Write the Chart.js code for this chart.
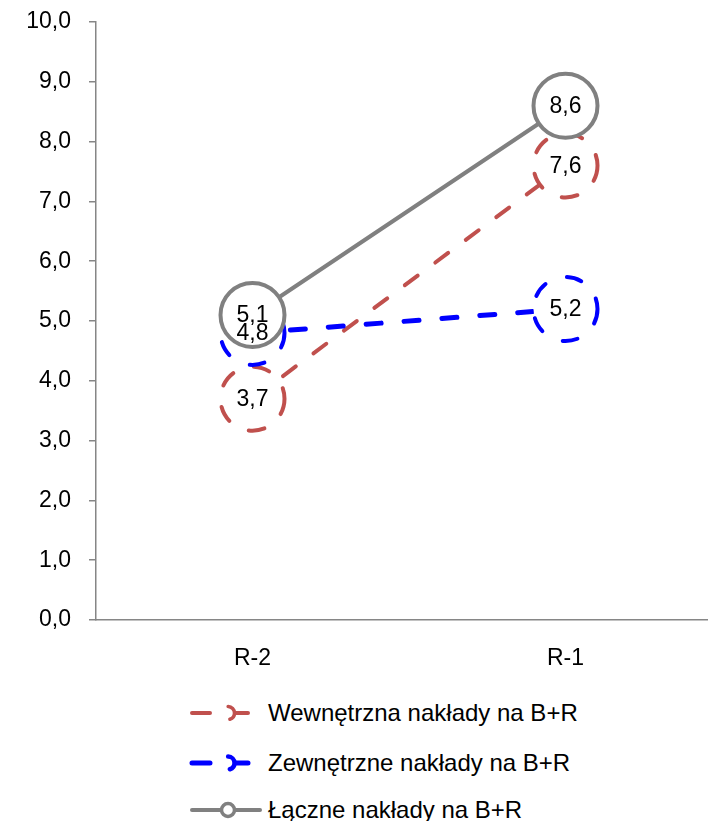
<!DOCTYPE html>
<html lang="pl">
<head>
<meta charset="utf-8">
<title>Nakłady na B+R</title>
<script src="https://cdn.jsdelivr.net/npm/chart.js@4/dist/chart.umd.min.js"></script>
<style>
    html, body {
        margin: 0;
        padding: 0;
        background: #ffffff;
        width: 708px;
        height: 821px;
        overflow: hidden;
        font-family: "Liberation Sans", Arial, sans-serif;
    }
    /* big point markers push Chart.js' minimum padding to 34px, so the canvas is shifted up */
    #chartBox {
        position: absolute;
        left: 0;
        top: -14px;
        width: 758px;
        height: 704px;
    }
    .legend-row {
        position: absolute;
        left: 186px;
        height: 30px;
        line-height: 30px;
        font-size: 24px;
        color: #000000;
        white-space: nowrap;
    }
    .legend-row svg {
        position: absolute;
        left: 0;
        top: 0;
    }
    .legend-row span {
        position: absolute;
        left: 82px;
        top: 0;
    }
</style>
</head>
<body>
<div id="chartBox">
    <canvas id="rdChart" width="758" height="704"></canvas>
</div>
<div id="legend"></div>

<script>
// Nakłady na B+R, R-2 vs R-1.
const categories = ['R-2', 'R-1'];
const internalValues = [3.7, 7.6];
const externalValues = [4.8, 5.2];
const totalValues = [5.1, 8.6];
const seriesNames = ['Wewnętrzna nakłady na B+R', 'Zewnętrzne nakłady na B+R', 'Łączne nakłady na B+R'];
const yMin = 0;
const yMax = 10;
const yStep = 1;

const FONT = '"Liberation Sans", Arial, sans-serif';
const RED = '#c0504d';
const BLUE = '#0000ff';
const GREY = '#808080';
const AXIS = '#868686';

function formatPl(value) {
    return Number(value).toFixed(1).replace('.', ',');
}

// markers take the dataset's dash pattern too
const dashedMarkers = {
    id: 'dashedMarkers',
    beforeDatasetDraw(chart, args) {
        const ds = chart.data.datasets[args.index];
        const ctx = chart.ctx;
        ctx.save();
        ctx.setLineDash(ds.borderDash || []);
        ctx.lineCap = 'round';
    },
    afterDatasetDraw(chart) {
        chart.ctx.restore();
    },
};

const valueLabels = {
    id: 'valueLabels',
    afterDatasetsDraw(chart) {
        const ctx = chart.ctx;
        ctx.save();
        ctx.font = `23px ${FONT}`;
        ctx.fillStyle = '#000000';
        ctx.textAlign = 'center';
        ctx.textBaseline = 'middle';
        chart.getSortedVisibleDatasetMetas().slice().reverse().forEach((meta) => {
            const values = chart.data.datasets[meta.index].data;
            meta.data.forEach((point, i) => {
                ctx.fillText(formatPl(values[i]), point.x, point.y + 1);
            });
        });
        ctx.restore();
    },
};

function buildDataset(label, data, color, width, dash, order) {
    return {
        label,
        data,
        order,
        borderColor: color,
        borderWidth: width,
        borderDash: dash,
        borderCapStyle: 'round',
        pointRadius: 32,
        pointHoverRadius: 32,
        pointBorderWidth: 4,
        pointBorderColor: color,
        pointBackgroundColor: '#ffffff',
        fill: false,
        tension: 0,
        clip: false,
    };
}

const ctx = document.getElementById('rdChart');
new Chart(ctx, {
    type: 'line',
    data: {
        labels: categories,
        datasets: [
            buildDataset(seriesNames[0], internalValues, RED, 4, [16, 22], 2),
            buildDataset(seriesNames[1], externalValues, BLUE, 5, [15, 23], 1),
            buildDataset(seriesNames[2], totalValues, GREY, 4, [], 0),
        ],
    },
    options: {
        responsive: false,
        devicePixelRatio: 1,
        animation: false,
        events: [],
        layout: { padding: 0 },
        plugins: {
            legend: { display: false },
            tooltip: { enabled: false },
        },
        scales: {
            x: {
                offset: true,
                grid: { drawOnChartArea: false, drawTicks: false },
                border: { display: true, color: AXIS, width: 1.5 },
                ticks: {
                    padding: 25,
                    color: '#000000',
                    font: { family: FONT, size: 23 },
                },
                afterFit(scale) {
                    scale.height = 70;
                },
            },
            y: {
                min: yMin,
                max: yMax,
                grid: { drawOnChartArea: false, drawTicks: true, tickLength: 7, color: AXIS, lineWidth: 1.5 },
                border: { display: true, color: AXIS, width: 1.5 },
                ticks: {
                    stepSize: yStep,
                    padding: 18,
                    color: '#000000',
                    font: { family: FONT, size: 23 },
                    callback: (value) => formatPl(value),
                },
                afterFit(scale) {
                    scale.width = 96;
                },
            },
        },
    },
    plugins: [dashedMarkers, valueLabels],
});

// legend rows (Excel style: short line with a small marker)
const legendItems = [
    { name: seriesNames[0], color: RED, width: 4, dash: '18 22', top: 698 },
    { name: seriesNames[1], color: BLUE, width: 5, dash: '18 22', top: 748 },
    { name: seriesNames[2], color: GREY, width: 4, dash: '', top: 795 },
];

const legendHost = document.getElementById('legend');
legendItems.forEach((item) => {
    const row = document.createElement('div');
    row.className = 'legend-row';
    row.style.top = `${item.top}px`;
    const dashAttr = item.dash ? `stroke-dasharray="${item.dash}"` : '';
    const lineEnd = item.dash ? 62 : 74;
    const circleDash = item.dash ? 'stroke-dasharray="16 22" stroke-dashoffset="8"' : '';
    row.innerHTML = `
        <svg width="80" height="30">
            <line x1="6" y1="15" x2="${lineEnd}" y2="15" stroke="${item.color}" stroke-width="${item.width}"
                  stroke-linecap="round" ${dashAttr}/>
            <circle cx="42" cy="15" r="6.5" fill="#ffffff" stroke="${item.color}" stroke-width="${item.width - 0.5}"
                    stroke-linecap="round" ${circleDash}/>
        </svg>
        <span>${item.name}</span>`;
    legendHost.appendChild(row);
});
</script>
</body>
</html>
